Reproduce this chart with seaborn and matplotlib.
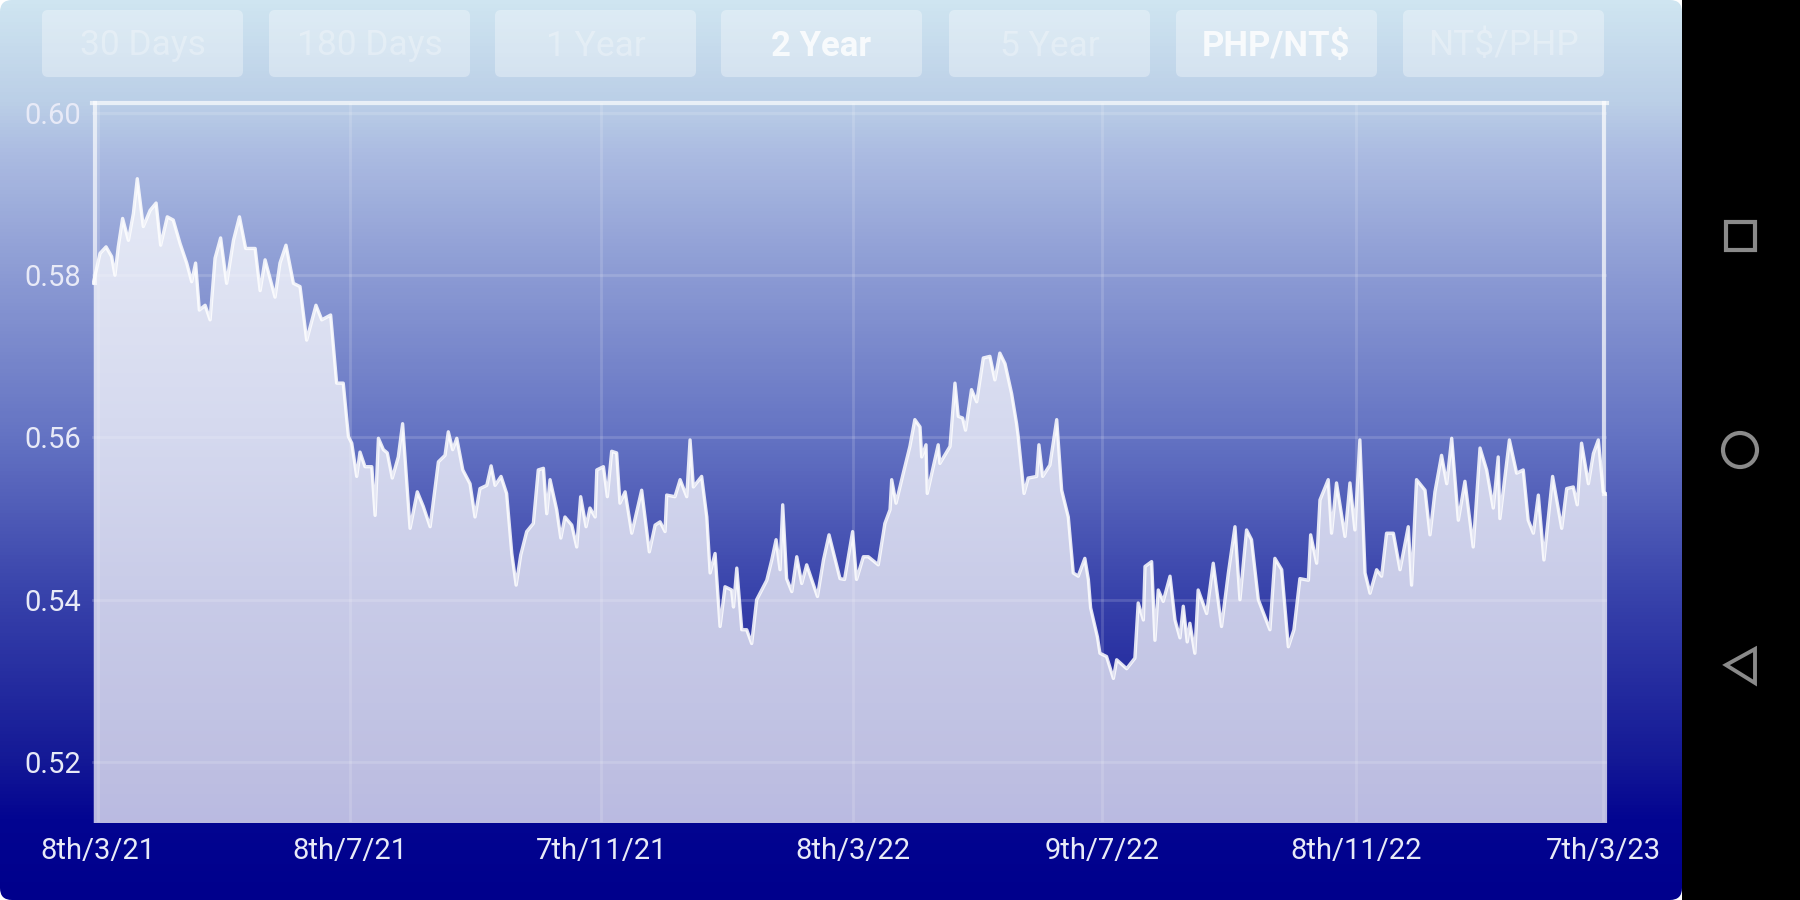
import matplotlib
matplotlib.use("Agg")
import matplotlib.pyplot as plt
import numpy as np
import pandas as pd
import seaborn as sns
from matplotlib.colors import LinearSegmentedColormap
from matplotlib.patches import FancyBboxPatch, Rectangle, Circle, Polygon

days = [-2.3,1.0,3.9,6.6,8.2,9.8,11.9,14.7,17.1,19.0,21.9,25.2,28.1,30.3,33.5,36.4,39.7,42.9,45.3,47.2,49.0,51.8,54.2,56.6,59.3,62.2,65.5,68.4,71.4,76.0,78.4,80.8,85.6,88.0,90.9,94.5,97.7,100.9,105.4,108.2,112.5,115.4,118.6,
121.1,122.7,125.1,126.7,129.1,132.4,134.0,135.6,138.0,139.9,142.3,145.2,147.3,150.9,154.4,157.3,160.6,164.6,167.8,169.4,171.5,173.5,176.4,179.9,182.3,184.7,188.0,190.1,192.0,194.9,197.6,200.1,202.2,204.4,207.3,210.5,212.9,215.4,217.0,218.6,221.8,223.8,225.8,229.1,231.5,233.4,236.0,237.9,240.4,241.2,244.4,246.3,248.4,250.8,252.4,254.9,258.1,262.9,266.6,269.4,271.8,274.2,275.0,279.0,281.5,284.7,286.3,287.9,291.9,294.4,296.0,298.4,300.8,303.2,306.4,307.3,308.9,311.3,313.7,316.1,318.5,323.4,325.8,327.9,329.8,331.1,333.0,335.5,337.9,340.3,342.7,347.9,350.8,353.5,
358.8,361.0,364.9,366.8,370.1,372.5,377.3,380.5,383.0,383.8,385.9,389.4,392.6,395.0,397.5,398.3,400.4,401.0,406.3,407.1,412.0,414.4,416.0,418.1,419.5,422.4,424.9,428.1,431.3,433.7,436.1,438.6,441.8,444.2,445.0,447.8,449.8,453.9,455.0,456.8,460.3,463.6,466.0,469.2,471.6,474.0,477.2,478.9,480.0,483.3,
484.5,487.7,491.0,492.6,497.4,501.4,503.0,505.5,506.3,509.5,511.1,512.7,515.1,518.4,520.8,523.2,524.8,526.7,528.0,530.4,532.0,536.1,539.3,543.3,546.6,549.8,552.2,555.4,557.8,561.1,566.7,569.1,572.4,575.6,578.3,581.2,585.3,586.4,589.3,590.9,594.9,596.5,598.9,603.0,605.4,607.8,610.2,612.7,615.1,618.3,620.7,623.1,626.4,629.6,633.6,635.2,637.6,641.7,644.1,646.5,649.7,652.2,654.6,657.8,661.0,665.0,668.3,671.5,674.7,677.1,677.9,682.5,686.0,689.2,691.6,694.1,696.5,699.2,703.4,707.8,710.2,713.4,715.3,717.4,720.7,723.1,725.5,727.9,729.5]

rates = [.5790,.5827,.5835,.5823,.5800,.5835,.5870,.5843,.5876,.5919,.5860,.5880,.5889,.5837,.5872,.5868,.5839,.5815,.5792,.5815,.5757,.5763,.5745,.5821,.5846,.5790,.5843,.5872,.5833,.5833,.5781,.5819,.5773,.5815,.5837,.5790,.5786,.5720,.5763,.5745,.5751,.5667,.5667,
.5601,.5593,.5552,.5582,.5564,.5564,.5504,.5599,.5585,.5581,.5550,.5576,.5617,.5488,.5533,.5515,.5490,.5570,.5578,.5607,.5585,.5599,.5560,.5543,.5502,.5537,.5541,.5565,.5541,.5552,.5531,.5457,.5418,.5455,.5484,.5494,.5560,.5562,.5506,.5548,.5511,.5476,.5502,.5492,.5465,.5527,.5490,.5513,.5502,.5560,.5564,.5527,.5583,.5581,.5519,.5533,.5482,.5535,.5459,.5492,.5496,.5484,.5529,.5527,.5548,.5527,.5597,.5539,.5552,.5502,.5433,.5457,.5367,.5416,.5412,.5391,.5439,.5363,.5363,.5346,.5400,.5424,.5449,.5474,.5437,.5517,.5426,.5410,.5453,.5420,.5443,.5404,.5449,.5480,
.5426,.5425,.5484,.5425,.5453,.5453,.5443,.5494,.5511,.5548,.5519,.5556,.5589,.5622,.5613,.5576,.5591,.5531,.5591,.5568,.5589,.5667,.5626,.5624,.5609,.5659,.5644,.5698,.5700,.5671,.5704,.5691,.5654,.5617,.5601,.5531,.5550,.5552,.5591,.5552,.5566,.5622,.5535,.5502,.5433,.5429,.5451,.5425,.5390,.5354,
.5334,.5330,.5303,.5326,.5315,.5328,.5396,.5375,.5441,.5447,.5350,.5412,.5398,.5429,.5375,.5353,.5392,.5348,.5371,.5334,.5412,.5383,.5445,.5367,.5433,.5490,.5400,.5486,.5474,.5400,.5363,.5451,.5437,.5342,.5363,.5426,.5424,.5480,.5445,.5523,.5548,.5482,.5544,.5478,.5544,.5486,.5597,.5433,.5408,.5437,.5429,.5482,.5482,.5437,.5490,.5418,.5548,.5535,.5480,.5533,.5578,.5543,.5599,.5498,.5546,.5465,.5587,.5560,.5513,.5576,.5500,.5597,.5556,.5560,.5498,.5482,.5529,.5449,.5552,.5488,.5537,.5539,.5517,.5593,.5543,.5580,.5597,.5533,.5530]

x_tick_days = [0, 121.7, 243.3, 365, 485.7, 608.3, 728]
x_tick_labels = ["8th/3/21", "8th/7/21", "7th/11/21", "8th/3/22", "9th/7/22", "8th/11/22", "7th/3/23"]
y_ticks = [0.52, 0.54, 0.56, 0.58, 0.60]
y_tick_labels = ["0.52", "0.54", "0.56", "0.58", "0.60"]
buttons = ["30 Days", "180 Days", "1 Year", "2 Year", "5 Year", "PHP/NT$", "NT$/PHP"]
active_buttons = ["2 Year", "PHP/NT$"]

sns.set_theme(style="white")
plt.rcParams["font.family"] = ["Roboto", "DejaVu Sans"]

W, H = 1800, 900
fig = plt.figure(figsize=(W / 100, H / 100), dpi=100, facecolor="white")

# screen layer in pixel coordinates: gradient, buttons, navigation bar
bg = fig.add_axes([0, 0, 1, 1], zorder=0)
bg.set_xlim(0, W)
bg.set_ylim(H, 0)
bg.axis("off")
stops = [(0.0, (207, 229, 241)), (100 / 900, (187, 207, 231)), (150 / 900, (172, 188, 226)),
         (273 / 900, (140, 155, 212)), (437 / 900, (100, 115, 195)), (600 / 900, (55, 65, 170)),
         (760 / 900, (20, 25, 150)), (820 / 900, (3, 5, 145)), (1.0, (0, 0, 140))]
cmap = LinearSegmentedColormap.from_list("screen", [(p, tuple(c / 255 for c in rgb)) for p, rgb in stops])
img = bg.imshow(np.linspace(0, 1, 900).reshape(-1, 1), cmap=cmap, aspect="auto", extent=(0, 1682, H, 0), vmin=0, vmax=1)
clip = FancyBboxPatch((0, 0), 1682, H, boxstyle="round,pad=0,rounding_size=12", transform=bg.transData, fc="none", ec="none")
bg.add_patch(clip)
img.set_clip_path(clip)
bg.add_patch(Rectangle((1682, 0), 118, H, fc="black", ec="none"))

button_left = [42, 269, 495, 721, 949, 1176, 1403]
for name, left in zip(buttons, button_left):
    bg.add_patch(FancyBboxPatch((left, 10), 201, 67, boxstyle="round,pad=0,rounding_size=6",
                                fc="white", ec="none", alpha=0.33))
    on = name in active_buttons
    bg.text(left + 100.5, 46, name, ha="center", va="center", fontsize=25 if on else 25.5,
            fontweight="bold" if on else "normal", color="white", alpha=0.82 if on else 0.3)

grey = "#8a8a8a"
bg.add_patch(Rectangle((1726, 222), 29, 28, fc="none", ec=grey, lw=3))
bg.add_patch(Circle((1740, 450), 17, fc="none", ec=grey, lw=3))
bg.add_patch(Polygon([[1726, 665], [1755, 649], [1755, 683]], closed=True, fc="none", ec=grey, lw=2.8))

# chart
px_left, px_right, px_top, px_bottom = 92, 1607, 103, 822
ax = fig.add_axes([px_left / W, 1 - px_bottom / H, (px_right - px_left) / W, (px_bottom - px_top) / H], zorder=1)
ax.patch.set_alpha(0)
frame = pd.DataFrame({"day": days, "rate": rates})
ax.fill_between(frame["day"], frame["rate"], 0.5, color="white", alpha=0.73, lw=0, zorder=2)
sns.lineplot(data=frame, x="day", y="rate", estimator=None, sort=False, color="white", alpha=0.85, lw=2.4,
             solid_joinstyle="round", ax=ax, zorder=3)
ax.set_xlim(-2.9, 729.7)
ax.set_ylim(0.5126, 0.60123)
ax.set_xlabel("")
ax.set_ylabel("")
ax.set_xticks(x_tick_days)
ax.set_xticklabels(x_tick_labels)
ax.set_yticks(y_ticks)
ax.set_yticklabels(y_tick_labels)
label_color = "#e8eaf7"
ax.tick_params(axis="x", length=0, pad=11, labelsize=21, labelcolor=label_color)
ax.tick_params(axis="y", length=0, pad=10, labelsize=21, labelcolor=label_color)
ax.grid(True, color="white", alpha=0.15, lw=2)
ax.set_axisbelow(False)
top = ax.get_ylim()[1]
spine_bounds = {"left": (rates[0], top), "right": (rates[-1], top)}
for side, pos in [("left", -2.5), ("right", -2), ("top", 0)]:
    ax.spines[side].set_visible(True)
    ax.spines[side].set_color((1, 1, 1, 0.68))
    ax.spines[side].set_linewidth(3)
    ax.spines[side].set_position(("outward", pos))
    if side in spine_bounds:
        ax.spines[side].set_bounds(*spine_bounds[side])
ax.spines["bottom"].set_visible(False)

fig.savefig("out.png", dpi=100)
